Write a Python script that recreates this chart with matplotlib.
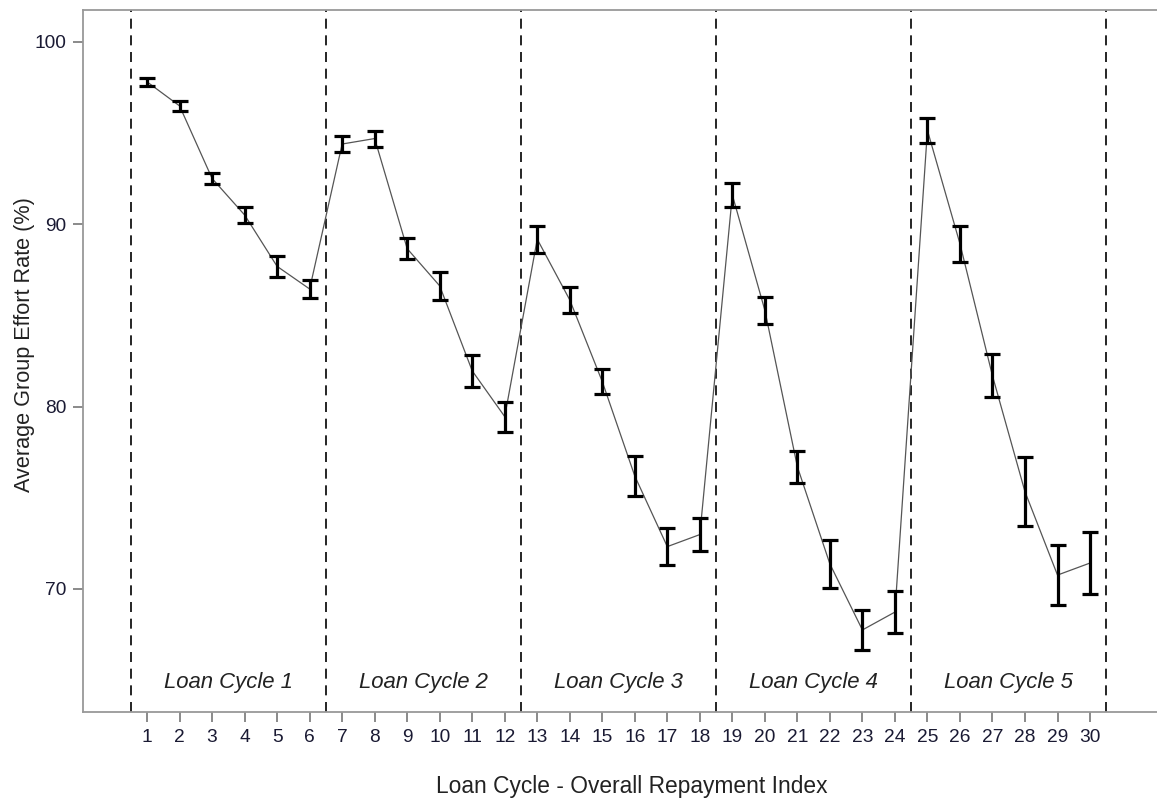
import matplotlib
matplotlib.use("Agg")
import matplotlib.pyplot as plt
import numpy as np

plt.rcParams['font.family'] = ['Liberation Sans', 'DejaVu Sans']

# repayment index and group effort (mean, half-width of error bar)
idx = list(range(1, 31))
effort = [97.81, 96.49, 92.51, 90.51, 87.69, 86.45,
          94.40, 94.70, 88.66, 86.62, 81.96, 79.45,
          89.18, 85.85, 81.37, 76.19, 72.32, 72.98,
          91.61, 85.28, 76.70, 71.37, 67.75, 68.73,
          95.15, 88.93, 81.69, 75.33, 70.76, 71.42]
err = [0.22, 0.27, 0.32, 0.46, 0.57, 0.48,
       0.44, 0.44, 0.58, 0.78, 0.87, 0.82,
       0.73, 0.73, 0.68, 1.10, 1.00, 0.90,
       0.64, 0.75, 0.88, 1.34, 1.10, 1.17,
       0.67, 0.98, 1.18, 1.88, 1.65, 1.72]
cycle_labels = ['Loan Cycle 1', 'Loan Cycle 2', 'Loan Cycle 3', 'Loan Cycle 4', 'Loan Cycle 5']
cycle_bounds = [0.5, 6.5, 12.5, 18.5, 24.5, 30.5]

fig = plt.figure(figsize=(11.57, 8.02), dpi=100)
ax = fig.add_axes([83/1157, 1-712/802, 1-83/1157, (712-10)/802])

ax.plot(idx, effort, color='#555555', lw=0.9, zorder=2)
ax.errorbar(idx, effort, yerr=err, fmt='none', ecolor='black',
            elinewidth=2.3, capsize=5.8, capthick=2.3, zorder=3)

for b in cycle_bounds:
    ax.axvline(b, color='black', lw=1.2, ls=(0, (6, 4)), zorder=1)

for i, lab in enumerate(cycle_labels):
    ax.text((cycle_bounds[i] + cycle_bounds[i+1]) / 2, 64.85, lab,
            ha='center', va='center', style='italic', fontsize=15.9, color='#222222')

ax.set_xlim(-0.97, 32.06)
ax.set_ylim(63.25, 101.75)
ax.set_xticks(idx)
ax.set_yticks([70, 80, 90, 100])
ax.tick_params(axis='both', direction='out', length=7, width=1.2,
               color='#777777', labelsize=13.8, labelcolor='#1a1a33', pad=5)

for s in ['left', 'top', 'bottom']:
    ax.spines[s].set_color('#999999')
    ax.spines[s].set_linewidth(1.3)
ax.spines['right'].set_visible(False)

fig.text(25/1157, 1-345/802, 'Average Group Effort Rate (%)', rotation=90,
         ha='center', va='center', fontsize=15.6, color='#222222')
fig.text(632/1157, 1-787/802, 'Loan Cycle - Overall Repayment Index',
         ha='center', va='center', fontsize=16.4, color='#222222')

fig.savefig('out.png', dpi=100)
